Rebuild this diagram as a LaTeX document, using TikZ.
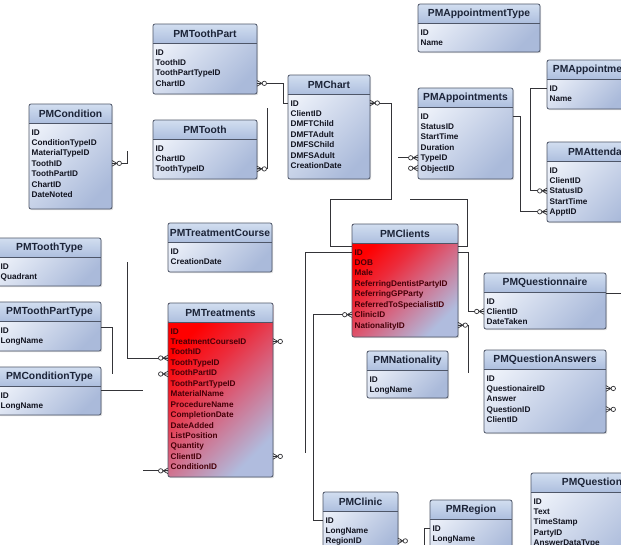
\documentclass[tikz,border=0pt]{standalone}
\usepackage{fontspec}
\setmainfont{Liberation Sans}
\usetikzlibrary{calc,shadows}

\definecolor{erBodyLight}{RGB}{238,242,250}
\definecolor{erBodyDark}{RGB}{170,186,218}
\definecolor{erHeadLight}{RGB}{210,222,240}
\definecolor{erHeadDark}{RGB}{172,190,222}
\definecolor{erBorder}{RGB}{78,86,104}
\definecolor{erTitleText}{RGB}{28,36,56}
\definecolor{erFieldText}{RGB}{18,20,32}
\definecolor{erRedTop}{RGB}{255,0,0}
\definecolor{erRedHot}{RGB}{236,44,60}
\definecolor{erRedMid}{RGB}{214,100,128}
\definecolor{erRedBottom}{RGB}{176,188,222}
\definecolor{erRedText}{RGB}{70,0,8}
\definecolor{erWire}{RGB}{52,52,56}

% red fill of the highlighted entities: red in the upper left, lavender in the lower right
\pgfdeclareverticalshading{erredfade}{100bp}{%
  color(0bp)=(erRedBottom); color(25bp)=(erRedBottom); color(45bp)=(erRedMid);
  color(58bp)=(erRedHot); color(72bp)=(erRedTop); color(100bp)=(erRedTop)}

\tikzset{
  erbox/.style={rectangle, inner sep=0pt, outer sep=0pt, rounded corners=2pt,
    drop shadow={shadow xshift=1.2pt, shadow yshift=-1.2pt, opacity=0.25}},
  erbody-blue/.style={top color=erBodyLight, bottom color=erBodyDark, shading angle=45},
  erbody-red/.style={shading=erredfade, shading angle=45},
  erhead/.style={top color=erHeadLight, bottom color=erHeadDark},
  erframe/.style={draw=erBorder, line width=0.8pt, rounded corners=2pt},
  ertitle/.style={inner sep=0pt, text=erTitleText, font=\bfseries\fontsize{10.3}{12}\selectfont},
  erfield-blue/.style={inner sep=0pt, text=erFieldText, font=\bfseries\fontsize{8.2}{10}\selectfont},
  erfield-red/.style={erfield-blue, text=erRedText},
  wire/.style={draw=erWire, line width=0.85pt},
  crowfoot/.pic={
    \draw[wire, line width=0.7pt] (0,-2.8) -- (5,0) (0,2.8) -- (5,0) (0,0) -- (5,0);
    \draw[wire, line width=0.7pt, fill=white] (7.3,0) circle (2.2);
  },
}

% one entity box: [style] name, left x, top y, width, height, title, fields
\newcommand\erTable[8][blue]{%
  \node[erbox, erbody-#1, minimum width=#5, minimum height=#6, anchor=north west] (#2) at (#3,#4) {};
  \path[erhead, rounded corners=2pt] (#2.north west) rectangle ($(#2.north east)+(0,19.5)$);
  \draw[erBorder, line width=0.6pt] ($(#2.north west)+(0,19.5)$) -- ($(#2.north east)+(0,19.5)$);
  \draw[erframe] (#2.north west) rectangle (#2.south east);
  \node[ertitle] (#2-title) at ($(#2.north)+(0,10)$) {#7};
  \foreach \f [count=\i] in {#8} {
    \coordinate (#2-r\i) at ($(#2.north west)+(0,{28+(\i-1)*10.45})$);
    \node[erfield-#1, anchor=base west] (#2-f\i) at ($(#2-r\i)+(2.5,3)$) {\f};
  }%
}

\begin{document}
\begin{tikzpicture}[x=1pt, y=-1pt]
\useasboundingbox (0,0) rectangle (621,544);
\fill[white] (0,0) rectangle (621,544);
\clip (0,0) rectangle (621,544);

% ---------- entities ----------
\erTable{toothpart}{153}{24}{104}{70}{PMToothPart}{ID,ToothID,ToothPartTypeID,ChartID}
\erTable{tooth}{153}{120}{104}{59}{PMTooth}{ID,ChartID,ToothTypeID}
\erTable{condition}{29}{104}{83}{105}{PMCondition}{ID,ConditionTypeID,MaterialTypeID,ToothID,ToothPartID,ChartID,DateNoted}
\erTable{chart}{288}{75}{82}{104}{PMChart}{ID,ClientID,DMFTChild,DMFTAdult,DMFSChild,DMFSAdult,CreationDate}
\erTable{appttype}{418}{4}{122}{48}{PMAppointmentType}{ID,Name}
\erTable{appointments}{418}{88}{95}{91}{PMAppointments}{ID,StatusID,StartTime,Duration,TypeID,ObjectID}
\erTable{apptstatus}{547}{60}{81}{49}{PMAppointme}{ID,Name}
\erTable{attenda}{547}{142}{96}{80}{PMAttenda}{ID,ClientID,StatusID,StartTime,ApptID}
\erTable{treatcourse}{168}{223}{104}{49}{PMTreatmentCourse}{ID,CreationDate}
\erTable[red]{treatments}{168}{303}{105}{174}{PMTreatments}{ID,TreatmentCourseID,ToothID,ToothTypeID,ToothPartID,ToothPartTypeID,MaterialName,ProcedureName,CompletionDate,DateAdded,ListPosition,Quantity,ClientID,ConditionID}
\erTable{toothtype}{-2}{238}{103}{48}{PMToothType}{ID,Quadrant}
\erTable{toothparttype}{-2}{302}{103}{49}{PMToothPartType}{ID,LongName}
\erTable{conditiontype}{-2}{367}{103}{48}{PMConditionType}{ID,LongName}
\erTable[red]{clients}{352}{224}{106}{113}{PMClients}{ID,DOB,Male,ReferringDentistPartyID,ReferringGPParty,ReferredToSpecialistID,ClinicID,NationalityID}
\erTable{questionnaire}{484}{273}{122}{56}{PMQuestionnaire}{ID,ClientID,DateTaken}
\erTable{qanswers}{484}{350}{122}{83}{PMQuestionAnswers}{ID,QuestionaireID,Answer,QuestionID,ClientID}
\erTable{nationality}{367}{351}{81}{47}{PMNationality}{ID,LongName}
\erTable{clinic}{323}{492}{75}{60}{PMClinic}{ID,LongName,RegionID}
\erTable{region}{430}{500}{82}{60}{PMRegion}{ID,LongName}
\erTable{question}{531}{473}{122}{80}{PMQuestion}{ID,Text,TimeStamp,PartyID,AnswerDataType}

% ---------- connector end points ----------
\coordinate (toothEnd) at (267,108);
\coordinate (condEnd) at (127,151);
\coordinate (chartBend) at (391,199);
\coordinate (chartDrop) at (330,199);
\coordinate (typeEnd) at (398,0);
\coordinate (apptStub) at (410,199);
\coordinate (apptDrop) at (467,199);
\coordinate (clientsIdEnd) at (305,453);
\coordinate (natEnd) at (468,373);
\coordinate (toothTypeEnd) at (127,262);
\coordinate (tpTypeEnd) at (112,374);
\coordinate (cTypeEnd) at (143,390);
\coordinate (condIdEnd) at (143,0);
\coordinate (regionEnd) at (424,552);
\coordinate (tToothId) at ($(treatments.north west)+(0,55)$);
\coordinate (tToothPart) at ($(treatments.north west)+(0,71)$);
\coordinate (tCondition) at ($(treatments-r14)+(0,4)$);

% ---------- connectors ----------
\draw[wire] (toothpart.east |- toothpart-r4) -- ++(26,0) |- (chart-r1);
\draw[wire] (tooth.east |- tooth-r3) -| (toothEnd);
\draw[wire] (condition.east |- condition-r4) -| (condEnd);
\draw[wire] (chart.east |- chart-r1) -| (chartBend) -- (chartDrop) |- ($(clients.north west)+(0,22)$);
\draw[wire] (appointments-r5) -- (typeEnd |- appointments-r5);
\draw[wire] (apptStub) -- (apptDrop) |- ($(clients.north east)+(0,22)$);
\draw[wire] (apptstatus-r1) -- ++(-17,0) |- (attenda-r3);
\draw[wire] (appointments.east |- appointments-r1) -- ++(7,0) |- (attenda-r5);
\draw[wire] (clients-r1) -| (clientsIdEnd);
\draw[wire] (clients-r7) -- ++(-39,0) |- (clinic-r1);
\draw[wire] (clients.east |- clients-r1) -- ++(10,0) |- (questionnaire-r2);
\draw[wire] (clients.east |- clients-r8) -| (natEnd);
\draw[wire] ($(questionnaire.north east)+(0,20)$) -- ++(24,0);
\draw[wire] (tToothId) -| (toothTypeEnd);
\draw[wire] (tCondition) -- (condIdEnd |- tCondition);
\draw[wire] ($(toothparttype.north east)+(0,25)$) -| (tpTypeEnd);
\draw[wire] ($(conditiontype.north east)+(0,23)$) -- (cTypeEnd);
\draw[wire] (region-r1) -- ++(-6,0) -- (regionEnd);

% ---------- crow's feet (many side) ----------
\pic at (toothpart.east |- toothpart-r4) {crowfoot};
\pic at (tooth.east |- tooth-r3) {crowfoot};
\pic at (condition.east |- condition-r4) {crowfoot};
\pic at (chart.east |- chart-r1) {crowfoot};
\pic[xscale=-1] at (appointments-r5) {crowfoot};
\pic[xscale=-1] at (appointments-r6) {crowfoot};
\pic[xscale=-1] at (attenda-r3) {crowfoot};
\pic[xscale=-1] at (attenda-r5) {crowfoot};
\pic[xscale=-1] at (clients-r7) {crowfoot};
\pic at (clients.east |- clients-r8) {crowfoot};
\pic[xscale=-1] at (questionnaire-r2) {crowfoot};
\pic at (qanswers.east |- qanswers-r2) {crowfoot};
\pic at (qanswers.east |- qanswers-r4) {crowfoot};
\pic at (treatments.east |- treatments-r2) {crowfoot};
\pic at (treatments.east |- treatments-r13) {crowfoot};
\pic[xscale=-1] at (tToothId) {crowfoot};
\pic[xscale=-1] at (tToothPart) {crowfoot};
\pic[xscale=-1] at (tCondition) {crowfoot};
\pic at (clinic.east |- clinic-r3) {crowfoot};
\end{tikzpicture}
\end{document}
